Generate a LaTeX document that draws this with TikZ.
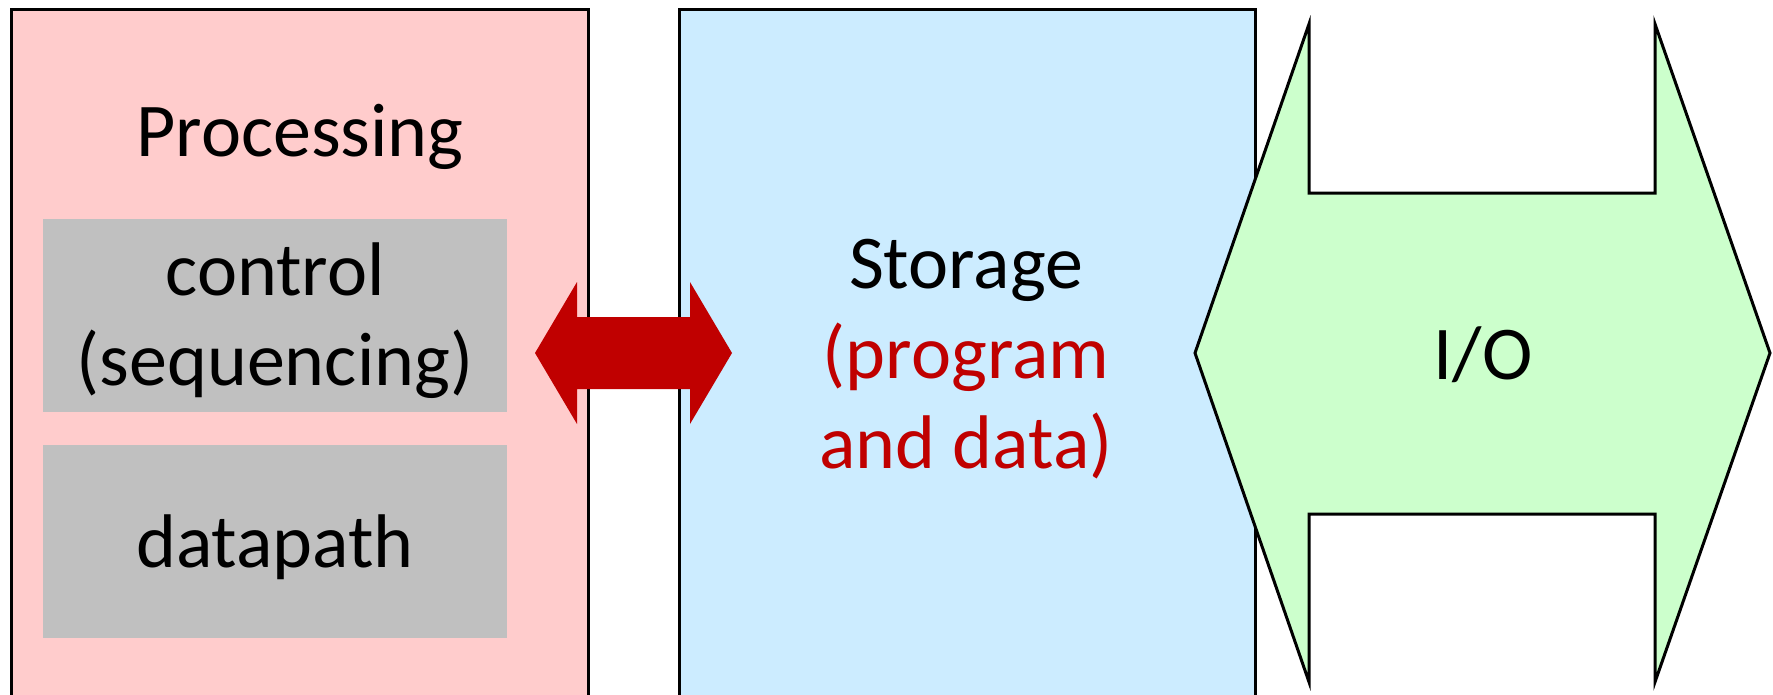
\documentclass[tikz,border=0pt]{standalone}
\usepackage{fontspec}
\setmainfont{Carlito}
\begin{document}
\begin{tikzpicture}[x=1pt,y=-1pt,
  bigbox/.style={draw=black,line width=3pt,anchor=north west,inner sep=0pt},
  graybox/.style={fill=graycol,anchor=north west,inner sep=0pt},
  lbl/.style={anchor=base,inner sep=0pt,font=\fontsize{76}{90}\selectfont},
  ]
\definecolor{pinkcol}{HTML}{FFCCCC}
\definecolor{graycol}{HTML}{C0C0C0}
\definecolor{bluecol}{HTML}{CCECFF}
\definecolor{greencol}{HTML}{CCFFCC}
\definecolor{redcol}{HTML}{C00000}
\useasboundingbox (0,0) rectangle (1773,694);
% boxes
\node[bigbox,fill=pinkcol,minimum width=577pt,minimum height=720pt] (proc) at (10,8) {};
\node[bigbox,fill=bluecol,minimum width=576pt,minimum height=720pt] (stor) at (678,8) {};
\node[graybox,minimum width=464pt,minimum height=193pt] (ctrl) at (43,219) {};
\node[graybox,minimum width=464pt,minimum height=193pt] (dp) at (43,445) {};
% texts
\node[lbl] (tproc) at (300,156) {Processing};
\node[lbl] (tctrl1) at (275,295) {control};
\node[lbl] (tctrl2) at (275,385) {(sequencing)};
\node[lbl] (tdp) at (275,567) {datapath};
\node[lbl] (tstor1) at (966,288) {Storage};
\node[lbl,text=redcol] (tstor2) at (966,378) {(program};
\node[lbl,text=redcol] (tstor3) at (966,468) {and data)};
% red double arrow between processing and storage
\coordinate (ra) at (535,353);
\coordinate (rb) at (732,353);
\fill[redcol] (ra) -- (577,282) -- (577,317) -- (690,317) -- (690,282) -- (rb)
  -- (690,424) -- (690,389) -- (577,389) -- (577,424) -- cycle;
% I/O double arrow
\coordinate (ia) at (1195,353);
\coordinate (ib) at (1770,353);
\filldraw[fill=greencol,draw=black,line width=3pt,line join=miter]
  (ia) -- (1309,24) -- (1309,193) -- (1655,193) -- (1655,24) -- (ib)
  -- (1655,682) -- (1655,514) -- (1309,514) -- (1309,682) -- cycle;
\node[lbl] (tio) at (1483,379) {I/O};
\end{tikzpicture}
\end{document}
